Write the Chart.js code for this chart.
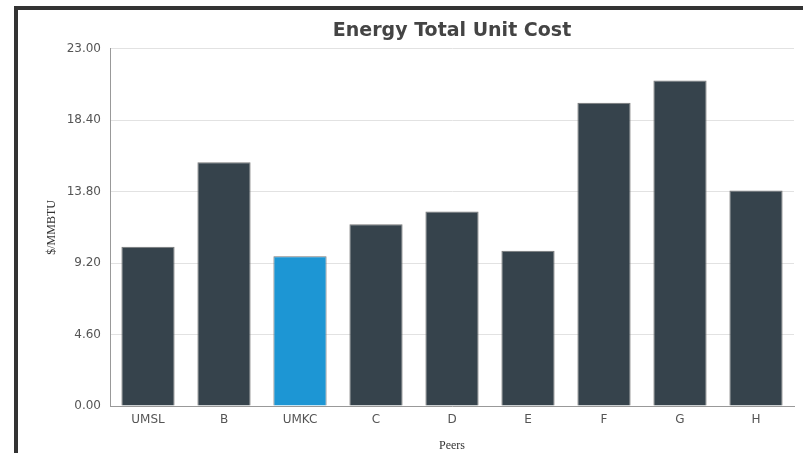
<!DOCTYPE html>
<html>
<head>
<meta charset="utf-8">
<script src="https://cdn.jsdelivr.net/npm/chart.js@4"></script>
<style>
  html, body { margin: 0; padding: 0; background: #fff; overflow: hidden; }
  #frame {
    position: absolute; left: 14px; top: 6px;
    width: 900px; height: 600px;
    border-top: 4px solid #333; border-left: 4px solid #333;
  }
  #box { position: absolute; left: 0; top: 0; width: 785px; height: 443px; }
</style>
</head>
<body>
<div id="frame"><div id="box"><canvas id="costChart"></canvas></div></div>
<script>
// datos del grafico
const peers = ['UMSL', 'B', 'UMKC', 'C', 'D', 'E', 'F', 'G', 'H'];
const unitCost = [10.26, 15.70, 9.64, 11.71, 12.52, 9.99, 19.52, 20.96, 13.87];
const highlightPeer = 'UMKC';
const yTicks = [0, 4.6, 9.2, 13.8, 18.4, 23];

const barColors = peers.map(p => p === highlightPeer ? '#1d96d4' : '#36434c');

const ctx = document.getElementById('costChart').getContext('2d');
new Chart(ctx, {
    type: 'bar',
    data: {
        labels: peers,
        datasets: [{
            label: 'Energy Total Unit Cost',
            data: unitCost,
            backgroundColor: barColors,
            borderColor: '#777',
            borderWidth: 1,
            barPercentage: 0.7,
            categoryPercentage: 1
        }]
    },
    options: {
        responsive: true,
        maintainAspectRatio: false,
        animation: false,
        layout: { padding: { left: 0, right: 9, top: 0, bottom: 0 } },
        plugins: {
            legend: { display: false },
            tooltip: { enabled: false },
            title: {
                display: true,
                fullSize: false,
                text: 'Energy Total Unit Cost',
                color: '#444',
                font: { family: 'DejaVu Sans', size: 19, weight: 'bold', lineHeight: 1.2 },
                padding: { top: 10, bottom: 6 }
            }
        },
        scales: {
            x: {
                grid: { display: false, drawTicks: false },
                border: { color: '#999' },
                ticks: { color: '#555', padding: 7, font: { family: 'DejaVu Sans', size: 12 } },
                title: {
                    display: true, text: 'Peers', color: '#333',
                    font: { family: 'Liberation Serif', size: 12, lineHeight: 1.2 },
                    padding: { top: 0, bottom: 0 }
                },
                afterFit: scale => { scale.height = 47; }
            },
            y: {
                min: 0,
                max: 23,
                grid: { color: '#e2e2e2', drawTicks: false },
                border: { color: '#999' },
                afterBuildTicks: scale => { scale.ticks = yTicks.map(v => ({ value: v })); },
                ticks: {
                    color: '#555', padding: 9,
                    font: { family: 'DejaVu Sans', size: 12 },
                    callback: v => Number(v).toFixed(2)
                },
                title: {
                    display: true, text: '$/MMBTU', color: '#333',
                    font: { family: 'Liberation Serif', size: 12, lineHeight: 1.2 },
                    padding: { top: 27, bottom: 0 }
                },
                afterFit: scale => { scale.width = 92; }
            }
        }
    }
});
</script>
</body>
</html>
